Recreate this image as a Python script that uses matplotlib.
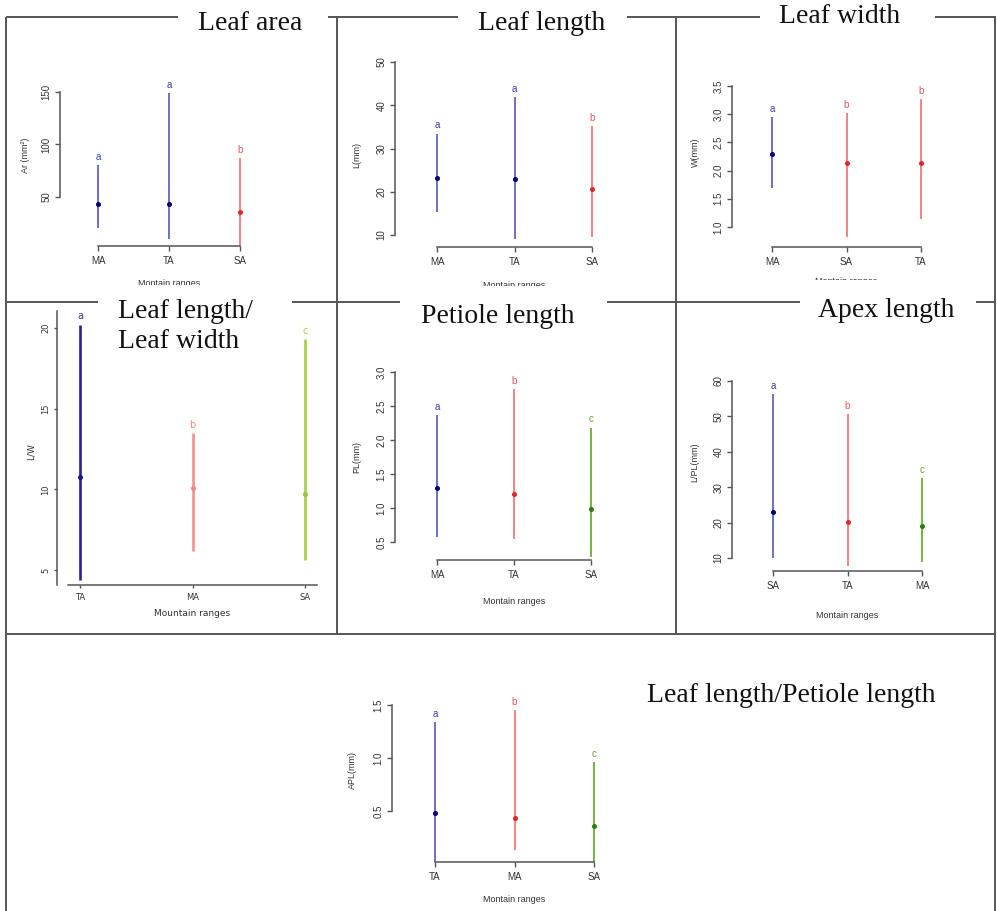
import numpy as np
import matplotlib.pyplot as plt
from matplotlib.lines import Line2D
from matplotlib.transforms import Bbox

W, H = 997, 911

# ---- data ----
area_cats = ['MA', 'TA', 'SA']
area_mean = [43.4, 43.4, 35.8]
area_low = [20.6, 10.2, 3.5]
area_high = [80.4, 148.7, 87.0]
area_letters = ['a', 'a', 'b']
area_yticks = [50, 100, 150]

length_cats = ['MA', 'TA', 'SA']
length_mean = [23.2, 23.0, 20.6]
length_low = [15.3, 9.1, 9.5]
length_high = [33.4, 41.9, 35.2]
length_letters = ['a', 'a', 'b']
length_yticks = [10, 20, 30, 40, 50]

width_cats = ['MA', 'SA', 'TA']
width_mean = [2.29, 2.13, 2.13]
width_low = [1.69, 0.82, 1.14]
width_high = [2.95, 3.02, 3.27]
width_letters = ['a', 'b', 'b']
width_yticks = [1.0, 1.5, 2.0, 2.5, 3.0, 3.5]

lw_cats = ['TA', 'MA', 'SA']
lw_mean = [10.74, 10.06, 9.7]
lw_low = [4.4, 6.2, 5.6]
lw_high = [20.2, 13.5, 19.3]
lw_letters = ['a', 'b', 'c']
lw_yticks = [5, 10, 15, 20]

pet_cats = ['MA', 'TA', 'SA']
pet_mean = [1.29, 1.21, 0.99]
pet_low = [0.57, 0.54, 0.28]
pet_high = [2.37, 2.75, 2.18]
pet_letters = ['a', 'b', 'c']
pet_yticks = [0.5, 1.0, 1.5, 2.0, 2.5, 3.0]

lpl_cats = ['SA', 'TA', 'MA']
lpl_mean = [23.0, 20.2, 19.0]
lpl_low = [9.9, 7.7, 8.9]
lpl_high = [56.3, 50.7, 32.6]
lpl_letters = ['a', 'b', 'c']
lpl_yticks = [10, 20, 30, 40, 50, 60]

apl_cats = ['TA', 'MA', 'SA']
apl_mean = [0.48, 0.43, 0.36]
apl_low = [0.02, 0.13, 0.02]
apl_high = [1.34, 1.45, 0.96]
apl_letters = ['a', 'b', 'c']
apl_yticks = [0.5, 1.0, 1.5]

# letter -> (line, point, text) colours
R_COLS = {'a': ('#7070c2', '#00007a', '#3b3ba6'),
          'b': ('#f28484', '#e3262b', '#e45656'),
          'c': ('#74b344', '#2f7d12', '#5fa82a')}
GG_COLS = {'a': ('#23238f', '#1a1a80', '#3a3aa0'),
           'b': ('#f4918b', '#f08a84', '#f08a84'),
           'c': ('#a2cf45', '#98c83a', '#a8d050')}

fig = plt.figure(figsize=(W / 100, H / 100), dpi=100)


def panel(cats, mean, low, high, letters, yticks, lay, gg=False):
    L, B = lay['yax'], lay['xax']
    c0, c1 = lay['cx']
    v0, p0, v1, p1 = lay['ref']
    R = lay.get('right', c1 + 30)
    T = lay.get('top', B - 200)
    n = len(cats)
    ax = fig.add_axes([L / W, 1 - B / H, (R - L) / W, (B - T) / H])
    ppc = (c1 - c0) / (n - 1)
    ppv = (p0 - p1) / (v1 - v0)
    ax.set_xlim(-(c0 - L) / ppc, (n - 1) + (R - c1) / ppc)
    ax.set_ylim(v0 - (B - p0) / ppv, v0 + (p0 - T) / ppv)
    ax.patch.set_alpha(0)

    cols = GG_COLS if gg else R_COLS
    family = 'DejaVu Sans' if gg else 'Liberation Sans'
    x = np.arange(n)
    for i in range(n):
        lc, pc, tc = cols[letters[i]]
        ax.vlines(x[i], low[i], high[i], color=lc, lw=1.9 if gg else 1.4, clip_on=False)
        ax.plot(x[i], mean[i], 'o', ms=2.6, color=pc, clip_on=False)
        ax.annotate(letters[i], (x[i], high[i]), xytext=(0, 6), textcoords='offset points',
                    ha='center', va='center', color=tc, fontsize=7, family=family)

    for s in ['top', 'right']:
        ax.spines[s].set_visible(False)
    axcol = '#555555'
    ax.spines['left'].set_color(axcol)
    ax.spines['bottom'].set_color(axcol)
    ax.spines['left'].set_linewidth(1.1)
    ax.spines['bottom'].set_linewidth(1.1)
    if gg:
        xs0, xs1 = lay['xspine']
        ax.spines['bottom'].set_bounds(-(c0 - xs0) / ppc, (n - 1) + (xs1 - c1) / ppc)
    else:
        ax.spines['left'].set_bounds(yticks[0], yticks[-1])
        ax.spines['bottom'].set_bounds(0, n - 1)

    ax.set_xticks(x, cats)
    ax.set_yticks(yticks, [lay['fmt'].format(v) for v in yticks])
    ax.tick_params(direction='out', length=2.5 if gg else 3.6, width=1, color=axcol,
                   labelsize=6 if gg else 7, labelcolor='#333333')
    ax.tick_params(axis='x', pad=3.5)
    ax.tick_params(axis='y', pad=2.5)
    for t in ax.get_xticklabels() + ax.get_yticklabels():
        t.set_family(family)
    for t in ax.get_yticklabels():
        t.set_rotation(90)
        t.set_va('center')

    # axis titles
    yx, yy = lay['ylab']
    fig.text(yx / W, 1 - yy / H, lay['ylabel'], rotation=90, ha='center', va='center',
             fontsize=6.5, color='#333333', family=family)
    xt = fig.text((c0 + c1) / 2 / W, 1 - lay['xlab_y'] / H, lay['xlabel'], ha='center',
                  va='center', fontsize=6.5, color='#333333', family=family)
    if 'clip' in lay:
        xt.set_clip_box(Bbox.from_extents(0, H - lay['clip'], W, H))
        xt.set_clip_on(True)
    return ax


panel(area_cats, area_mean, area_low, area_high, area_letters, area_yticks,
      dict(yax=60, xax=246, cx=(98, 240), ref=(50, 197, 150, 92), fmt='{:g}',
           ylab=(25, 155), ylabel='Ar (mm²)', xlab_y=283, xlabel='Montain ranges', clip=285))
panel(length_cats, length_mean, length_low, length_high, length_letters, length_yticks,
      dict(yax=395, xax=247, cx=(437, 592), ref=(10, 235, 50, 62), fmt='{:g}',
           ylab=(357, 155), ylabel='L(mm)', xlab_y=285, xlabel='Montain ranges', clip=286))
panel(width_cats, width_mean, width_low, width_high, width_letters, width_yticks,
      dict(yax=732, xax=247, cx=(772, 921), ref=(1.0, 227, 3.5, 86), fmt='{:.1f}',
           ylab=(695, 152), ylabel='W(mm)', xlab_y=282, xlabel='Montain ranges', clip=280))
panel(lw_cats, lw_mean, lw_low, lw_high, lw_letters, lw_yticks,
      dict(yax=57, xax=585, cx=(80, 305), ref=(5, 570, 20, 328), fmt='{:g}',
           top=311, right=317, xspine=(68, 317),
           ylab=(31, 452), ylabel='L/W', xlab_y=614, xlabel='Mountain ranges'), gg=True)
panel(pet_cats, pet_mean, pet_low, pet_high, pet_letters, pet_yticks,
      dict(yax=395, xax=560, cx=(437, 591), ref=(0.5, 542, 3.0, 372), fmt='{:.1f}',
           ylab=(357, 457), ylabel='PL(mm)', xlab_y=602, xlabel='Montain ranges'))
panel(lpl_cats, lpl_mean, lpl_low, lpl_high, lpl_letters, lpl_yticks,
      dict(yax=732, xax=571, cx=(773, 922), ref=(10, 558, 60, 381), fmt='{:g}',
           ylab=(695, 462), ylabel='L/PL(mm)', xlab_y=615, xlabel='Montain ranges'))
panel(apl_cats, apl_mean, apl_low, apl_high, apl_letters, apl_yticks,
      dict(yax=392, xax=862, cx=(435, 594), ref=(0.5, 811, 1.5, 705), fmt='{:.1f}',
           ylab=(352, 770), ylabel='APL(mm)', xlab_y=899, xlabel='Montain ranges'))


# ---- frame lines of the composite (gaps where the titles sit) ----
def seg(x0, y0, x1, y1):
    fig.add_artist(Line2D([x0 / W, x1 / W], [1 - y0 / H, 1 - y1 / H], color='#555555',
                          lw=1.4, transform=fig.transFigure, solid_capstyle='butt'))


for a, b in [(6, 178), (328, 458), (627, 760), (935, 996)]:
    seg(a, 17, b, 17)
for a, b in [(6, 98), (292, 400), (607, 800), (976, 996)]:
    seg(a, 302, b, 302)
seg(6, 634, 996, 634)
seg(6, 17, 6, 911)
seg(337, 17, 337, 634)
seg(676, 17, 676, 634)
seg(995, 17, 995, 911)

# ---- panel titles ----
tkw = dict(family='Liberation Serif', fontsize=20, va='baseline', color='#111111')
fig.text(250 / W, 1 - 29.5 / H, 'Leaf area', ha='center', **tkw)
fig.text(542 / W, 1 - 29.5 / H, 'Leaf length', ha='center', **tkw)
fig.text(840 / W, 1 - 22.7 / H, 'Leaf width', ha='center', **tkw)
fig.text(118 / W, 1 - 318 / H, 'Leaf length/', ha='left', **tkw)
fig.text(118 / W, 1 - 348 / H, 'Leaf width', ha='left', **tkw)
fig.text(498 / W, 1 - 323 / H, 'Petiole length', ha='center', **tkw)
fig.text(886 / W, 1 - 317 / H, 'Apex length', ha='center', **tkw)
fig.text(791 / W, 1 - 702 / H, 'Leaf length/Petiole length', ha='center', **tkw)

fig.savefig('out.png', dpi=100)
